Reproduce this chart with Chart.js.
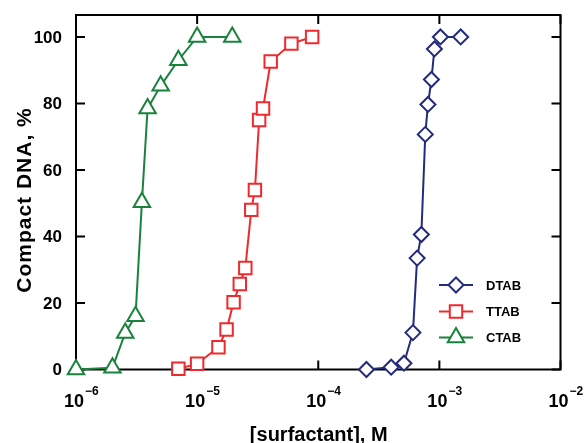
<!DOCTYPE html>
<html>
<head>
<meta charset="utf-8">
<script src="https://cdn.jsdelivr.net/npm/chart.js@4.4.0/dist/chart.umd.min.js"></script>
<style>
  html, body { margin: 0; background: #fff; }
</style>
</head>
<body>
<canvas id="chart" width="584" height="443"></canvas>
<script>
// data (x in M, y in %)
const dtabX = [2.5e-4, 4.0e-4, 5.1e-4, 6.05e-4, 6.55e-4, 7.1e-4, 7.65e-4, 8.05e-4, 8.6e-4, 9.1e-4, 1.02e-3, 1.5e-3];
const dtabY = [0, 0.7, 1.9, 11.1, 33.5, 40.6, 70.7, 79.7, 87.2, 96.4, 100, 100];

const ttabX = [7.0e-6, 1.0e-5, 1.5e-5, 1.75e-5, 2.0e-5, 2.25e-5, 2.5e-5, 2.8e-5, 3.0e-5, 3.25e-5, 3.5e-5, 4.05e-5, 6.0e-5, 8.9e-5];
const ttabY = [0.2, 1.7, 6.7, 12, 20.2, 25.7, 30.5, 48, 54, 75, 78.5, 92.6, 98, 100];

const ctabX = [1.0e-6, 2.0e-6, 2.55e-6, 3.1e-6, 3.5e-6, 3.9e-6, 5.0e-6, 7.0e-6, 1.0e-5, 1.95e-5];
const ctabY = [0, 0.5, 11, 16, 50.3, 78.5, 85.3, 93, 100, 100];

const seriesNames = ['DTAB', 'TTAB', 'CTAB'];
const xTicks = [1e-6, 1e-5, 1e-4, 1e-3, 1e-2];
const yTicks = [0, 20, 40, 60, 80, 100];

const FONT = '"Liberation Sans", Arial, Helvetica, sans-serif';
const colors = ['#252b7c', '#ee2a2e', '#19823c'];
const styles = ['rectRot', 'rect', 'triangle'];
const radii = [7.5, 8.8, 9.5];

function toPoints(xs, ys) {
  return xs.map((v, i) => ({ x: v, y: ys[i] }));
}

// frame, inward ticks, tick labels and titles
const axesBox = {
  id: 'axesBox',
  beforeDatasetsDraw(chart) {
    const { ctx, chartArea: a, scales: { x, y } } = chart;
    ctx.save();
    ctx.strokeStyle = '#000';
    ctx.lineWidth = 2;
    ctx.strokeRect(a.left, a.top, a.right - a.left, a.bottom - a.top);

    ctx.beginPath();
    yTicks.forEach(v => {
      const py = y.getPixelForValue(v);
      ctx.moveTo(a.left, py); ctx.lineTo(a.left + 9, py);
      ctx.moveTo(a.right, py); ctx.lineTo(a.right - 9, py);
    });
    xTicks.forEach(v => {
      const px = x.getPixelForValue(v);
      ctx.moveTo(px, a.bottom); ctx.lineTo(px, a.bottom - 9);
      ctx.moveTo(px, a.top); ctx.lineTo(px, a.top + 9);
    });
    ctx.stroke();

    ctx.fillStyle = '#000';
    ctx.font = 'bold 17px ' + FONT;
    ctx.textAlign = 'right';
    ctx.textBaseline = 'middle';
    yTicks.forEach(v => ctx.fillText(String(v), a.left - 14, y.getPixelForValue(v) + 1));

    ctx.textBaseline = 'alphabetic';
    xTicks.forEach(v => {
      const px = x.getPixelForValue(v) - 2;
      ctx.font = 'bold 18px ' + FONT;
      ctx.textAlign = 'center';
      ctx.fillText('10', px, a.bottom + 37.5);
      const w = ctx.measureText('10').width;
      ctx.font = 'bold 12px ' + FONT;
      ctx.textAlign = 'left';
      ctx.fillText('\u2212' + Math.abs(Math.round(Math.log10(v))), px + w / 2 + 1, a.bottom + 25.5);
    });

    // axis titles
    ctx.font = 'bold 20px ' + FONT;
    ctx.textAlign = 'center';
    ctx.fillText('[surfactant], M', (a.left + a.right) / 2 + 0.5, 440.5);

    ctx.save();
    ctx.translate(30.5, 200);
    ctx.rotate(-Math.PI / 2);
    ctx.font = 'bold 21px ' + FONT;
    if ('letterSpacing' in ctx) ctx.letterSpacing = '1px';
    ctx.fillText('Compact DNA, %', 0, 0);
    ctx.restore();

    ctx.restore();
  },
  afterDatasetsDraw(chart) {
    // legend inside the plot, lower right
    const { ctx } = chart;
    const rows = [285, 311.5, 337.5];
    ctx.save();
    seriesNames.forEach((name, i) => {
      const yy = rows[i];
      ctx.strokeStyle = colors[i];
      ctx.lineWidth = 2;
      ctx.beginPath();
      ctx.moveTo(439, yy); ctx.lineTo(473, yy);
      ctx.stroke();
      ctx.fillStyle = '#fff';
      ctx.beginPath();
      const cx = 456, r = radii[i];
      if (styles[i] === 'rectRot') {
        ctx.moveTo(cx - r, yy); ctx.lineTo(cx, yy - r); ctx.lineTo(cx + r, yy); ctx.lineTo(cx, yy + r);
      } else if (styles[i] === 'rect') {
        const s = r * Math.SQRT1_2;
        ctx.rect(cx - s, yy - s, 2 * s, 2 * s);
      } else {
        for (let k = 0; k < 3; k++) {
          const ang = k * 2 * Math.PI / 3;
          const px = cx + Math.sin(ang) * r, py = yy - Math.cos(ang) * r;
          if (k === 0) ctx.moveTo(px, py); else ctx.lineTo(px, py);
        }
      }
      ctx.closePath();
      ctx.fill();
      ctx.stroke();
      ctx.fillStyle = '#000';
      ctx.font = 'bold 13px ' + FONT;
      ctx.textAlign = 'left';
      ctx.textBaseline = 'middle';
      ctx.fillText(name, 486, yy + 1);
    });
    ctx.restore();
  }
};

const allX = [dtabX, ttabX, ctabX];
const allY = [dtabY, ttabY, ctabY];

new Chart(document.getElementById('chart'), {
  type: 'line',
  data: {
    datasets: seriesNames.map((name, i) => ({
      label: name,
      data: toPoints(allX[i], allY[i]),
      borderColor: colors[i],
      borderWidth: 2,
      pointStyle: styles[i],
      pointRadius: radii[i],
      pointBorderWidth: 2,
      pointBorderColor: colors[i],
      pointBackgroundColor: '#fff',
      tension: 0,
      clip: false
    }))
  },
  options: {
    responsive: false,
    animation: false,
    devicePixelRatio: 1,
    layout: { padding: { left: 76, right: 23.5, top: 15, bottom: 73.5 } },
    scales: {
      x: {
        type: 'logarithmic',
        min: 1e-6,
        max: 1e-2,
        grid: { display: false, drawTicks: false },
        border: { display: false },
        ticks: { display: false }
      },
      y: {
        min: 0,
        max: 106.6,
        grid: { display: false, drawTicks: false },
        border: { display: false },
        ticks: { display: false }
      }
    },
    plugins: {
      legend: { display: false },
      tooltip: { enabled: false }
    }
  },
  plugins: [axesBox]
});
</script>
</body>
</html>
